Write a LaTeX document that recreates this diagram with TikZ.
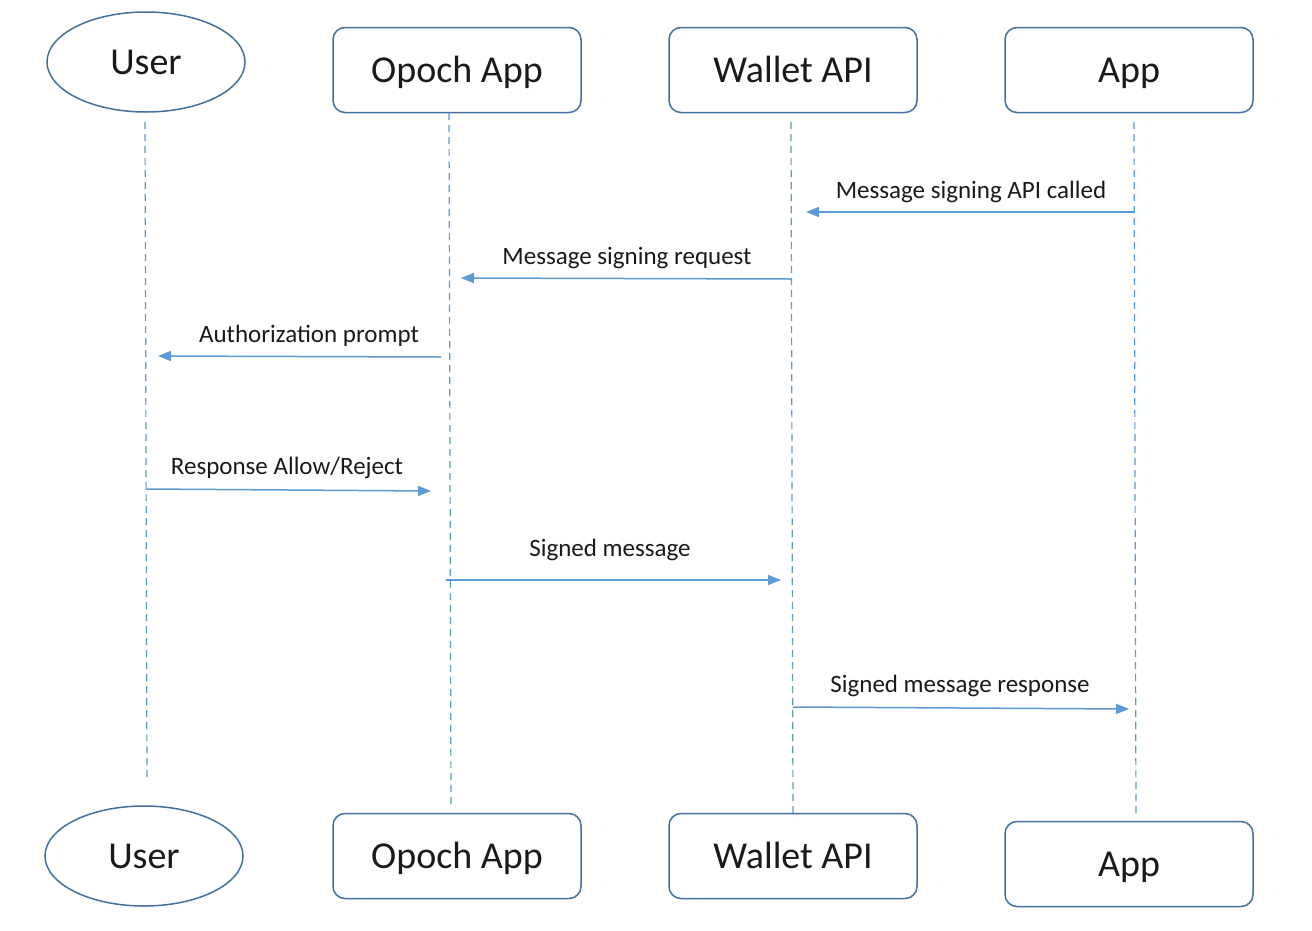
\documentclass[tikz,border=0pt]{standalone}
\usepackage{fontspec}
\setmainfont{Carlito}
\usetikzlibrary{shapes.geometric,arrows.meta}
\definecolor{linec}{HTML}{5B9BD5}
\definecolor{borderc}{HTML}{41719C}
\definecolor{txt}{HTML}{1A1A1A}
\begin{document}
\begin{tikzpicture}[x=1pt,y=-1pt,
  actor/.style={ellipse,draw=borderc,line width=1.5pt,minimum width=198pt,minimum height=100pt,inner sep=0pt,text height=24pt,text depth=0pt,font=\fontsize{38}{44}\selectfont,text=txt},
  partbox/.style={draw=borderc,line width=1.5pt,rounded corners=12pt,minimum width=248pt,minimum height=85pt,inner sep=0pt,text height=24pt,text depth=0pt,font=\fontsize{38}{44}\selectfont,text=txt},
  life/.style={draw=linec,line width=1.2pt,dash pattern=on 7pt off 5pt},
  msg/.style={draw=linec,line width=1.5pt,-{Triangle[length=13pt,width=10pt]}},
  lbl/.style={font=\fontsize{25}{30}\selectfont,text=txt,anchor=base,inner sep=0pt}]
\useasboundingbox[fill=white] (0,0) rectangle (1312,930);
% participants top
\node[actor]   (userT)   at (146,62)  {User};
\node[partbox] (opochT)  at (457,70)  {Opoch App};
\node[partbox] (walletT) at (793,70)  {Wallet API};
\node[partbox] (appT)    at (1129,70) {App};
% participants bottom
\node[actor]   (userB)   at (144,856) {User};
\node[partbox] (opochB)  at (457,856) {Opoch App};
\node[partbox] (walletB) at (793,856) {Wallet API};
\node[partbox] (appB)    at (1129,864) {App};
% lifelines
\coordinate (uL1) at (145,122); \coordinate (uL2) at (147,780);
\coordinate (oL1) at (449,113); \coordinate (oL2) at (451,806);
\coordinate (wL1) at (791,122); \coordinate (wL2) at (793,818);
\coordinate (aL1) at (1134,122); \coordinate (aL2) at (1136,818);
\draw[life] (uL1) -- (uL2);
\draw[life] (oL1) -- (oL2);
\draw[life] (wL1) -- (wL2);
\draw[life] (aL1) -- (aL2);
% messages
\coordinate (m1s) at (1134,212); \coordinate (m1e) at (806,212);
\coordinate (m2s) at (791,279);  \coordinate (m2e) at (461,278);
\coordinate (m3s) at (441,357);  \coordinate (m3e) at (158,356);
\coordinate (m4s) at (146,489);  \coordinate (m4e) at (431,491);
\coordinate (m5s) at (446,580);  \coordinate (m5e) at (781,580);
\coordinate (m6s) at (793,707);  \coordinate (m6e) at (1129,709);
\draw[msg] (m1s) -- (m1e);
\draw[msg] (m2s) -- (m2e);
\draw[msg] (m3s) -- (m3e);
\draw[msg] (m4s) -- (m4e);
\draw[msg] (m5s) -- (m5e);
\draw[msg] (m6s) -- (m6e);
% labels
\node[lbl] (l1) at (971,198) {Message signing API called};
\node[lbl] (l2) at (627,264) {Message signing request};
\node[lbl] (l3) at (309,342) {Authorization prompt};
\node[lbl] (l4) at (287,474) {Response Allow/Reject};
\node[lbl] (l5) at (610,556) {Signed message};
\node[lbl] (l6) at (960,692) {Signed message response};
\end{tikzpicture}
\end{document}
